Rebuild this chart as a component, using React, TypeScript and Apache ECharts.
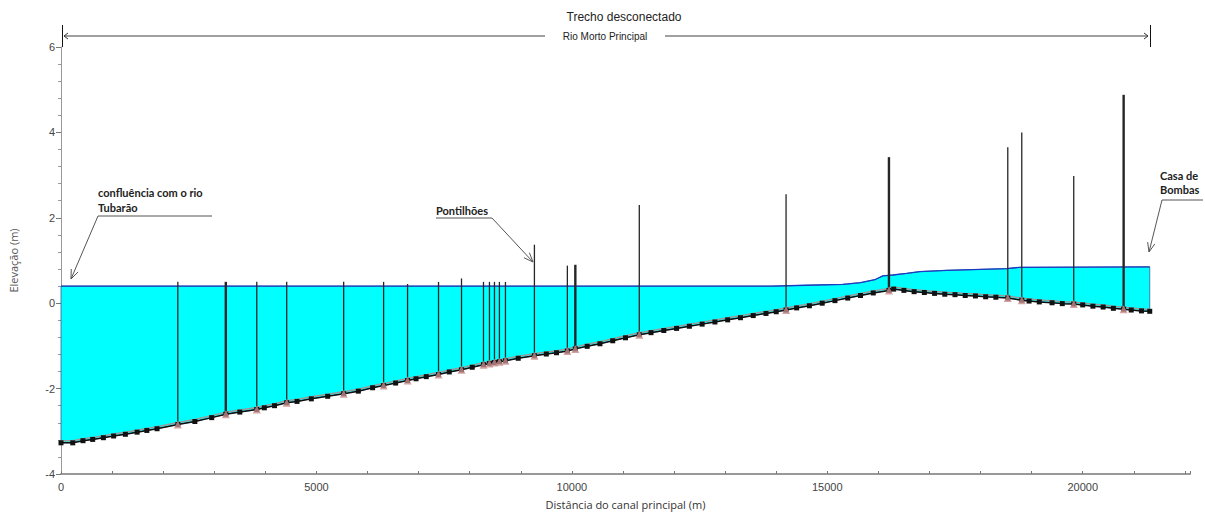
import React, { useEffect, useRef } from "react";
import * as echarts from "echarts";

// Bed profile (cross-sections): distance (m) and elevation (m)
const bedX = [0, 230, 430, 620, 830, 1030, 1260, 1490, 1680, 1880, 2287, 2620, 2950, 3226, 3500, 3832, 3980, 4180, 4418, 4620, 4900, 5220, 5533, 5820, 6100, 6315, 6550, 6784, 6950, 7150, 7390, 7600, 7840, 8050, 8270, 8387, 8485, 8582, 8700, 8950, 9267, 9500, 9700, 9912, 10068, 10300, 10550, 10800, 11050, 11320, 11550, 11800, 12050, 12300, 12550, 12800, 13050, 13300, 13550, 13800, 14000, 14193, 14400, 14650, 14900, 15150, 15400, 15650, 15900, 16207, 16300, 16500, 16700, 16900, 17100, 17300, 17500, 17700, 17900, 18100, 18300, 18533, 18807, 18950, 19150, 19400, 19600, 19824, 20000, 20200, 20400, 20600, 20801, 20950, 21150, 21312];
const bedZ = [-3.27, -3.27, -3.22, -3.19, -3.15, -3.11, -3.07, -3.02, -2.98, -2.94, -2.84, -2.77, -2.68, -2.6, -2.55, -2.49, -2.45, -2.4, -2.33, -2.3, -2.24, -2.18, -2.12, -2.06, -1.98, -1.93, -1.87, -1.81, -1.77, -1.72, -1.67, -1.61, -1.56, -1.5, -1.44, -1.41, -1.39, -1.37, -1.35, -1.29, -1.23, -1.19, -1.16, -1.12, -1.07, -1.01, -0.95, -0.88, -0.81, -0.74, -0.69, -0.64, -0.59, -0.54, -0.49, -0.44, -0.39, -0.34, -0.29, -0.24, -0.2, -0.16, -0.11, -0.06, 0.0, 0.06, 0.12, 0.18, 0.24, 0.3, 0.33, 0.3, 0.27, 0.25, 0.23, 0.21, 0.2, 0.18, 0.17, 0.15, 0.14, 0.12, 0.07, 0.05, 0.03, 0.01, -0.01, -0.02, -0.04, -0.07, -0.09, -0.12, -0.14, -0.16, -0.18, -0.19];

// Water surface
const waterX = [0, 13914, 14599, 15304, 15650, 15930, 16087, 16282, 16556, 16810, 17339, 18512, 18767, 21312];
const waterZ = [0.4, 0.4, 0.42, 0.44, 0.48, 0.55, 0.64, 0.66, 0.7, 0.74, 0.77, 0.81, 0.84, 0.85];

// Bridges (pontilhões): position, base (bed) and top elevations
const bridgeX = [2287, 3226, 3832, 4418, 5533, 6315, 6784, 7390, 7840, 8270, 8387, 8485, 8582, 8700, 9267, 9912, 10068, 11320, 14193, 16207, 18533, 18807, 19824, 20801];
const bridgeBase = [-2.84, -2.6, -2.49, -2.33, -2.12, -1.93, -1.81, -1.67, -1.56, -1.44, -1.41, -1.39, -1.37, -1.35, -1.23, -1.12, -1.07, -0.74, -0.16, 0.3, 0.12, 0.07, -0.02, -0.14];
const bridgeTop = [0.5, 0.5, 0.5, 0.5, 0.5, 0.5, 0.45, 0.5, 0.58, 0.5, 0.5, 0.5, 0.5, 0.5, 1.37, 0.88, 0.9, 2.3, 2.55, 3.42, 3.65, 4.0, 2.98, 4.88];
const thickBridges = [3226, 10068, 16207, 20801];

const FONT = "'Liberation Sans', Arial, sans-serif";
const BOLD = "Lato, 'Open Sans', sans-serif";

function arrowHead(tip: number[], from: number[], len = 10, ang = 0.38) {
  const dx = from[0] - tip[0];
  const dy = from[1] - tip[1];
  const a = Math.atan2(dy, dx);
  return [
    [tip[0] + len * Math.cos(a + ang), tip[1] + len * Math.sin(a + ang)],
    [tip[0], tip[1]],
    [tip[0] + len * Math.cos(a - ang), tip[1] + len * Math.sin(a - ang)],
  ];
}

function callout(points: number[][]) {
  const n = points.length;
  return [
    { type: "polyline", shape: { points }, style: { stroke: "#555", lineWidth: 1, fill: null }, silent: true },
    { type: "polyline", shape: { points: arrowHead(points[n - 1], points[n - 2]) }, style: { stroke: "#555", lineWidth: 1, fill: null }, silent: true },
  ];
}

export default function App() {
  const ref = useRef<HTMLDivElement>(null);
  useEffect(() => {
    if (!ref.current) return;
    const chart = echarts.init(ref.current, undefined, { renderer: "svg" });
    const bedData = bedX.map((x, i) => [x, bedZ[i]]);
    const waterData = waterX.map((x, i) => [x, waterZ[i]]);
    const bridgeData = bridgeX.map((x, i) => [x, bridgeBase[i], bridgeTop[i]]);

    const option: any = {
      animation: false,
      backgroundColor: "#fff",
      grid: { left: 60, right: 15, top: 47, bottom: 33, containLabel: false },
      xAxis: {
        type: "value",
        min: 0,
        max: 22100,
        interval: 1000,
        name: "Distância do canal principal (m)",
        nameLocation: "middle",
        nameGap: 25,
        nameTextStyle: { color: "#333", fontSize: 11, fontFamily: "'Open Sans', sans-serif" },
        axisLine: { show: true, onZero: false, lineStyle: { color: "#999", width: 2 } },
        axisTick: { show: true, inside: true, length: 3, lineStyle: { color: "#777" } },
        axisLabel: {
          color: "#444",
          fontSize: 11,
          fontFamily: FONT,
          margin: 7,
          formatter: (v: number) => (v % 5000 === 0 ? String(v) : ""),
        },
        splitLine: { show: false },
      },
      yAxis: {
        type: "value",
        min: -4,
        max: 6,
        interval: 2,
        name: "Elevação (m)",
        nameLocation: "middle",
        nameGap: 42,
        nameTextStyle: { color: "#555", fontSize: 11, fontFamily: "'Open Sans', sans-serif" },
        axisLine: { show: true, onZero: false, lineStyle: { color: "#999", width: 1 } },
        axisTick: { show: true, length: 5, lineStyle: { color: "#777" } },
        minorTick: { show: true, splitNumber: 5, length: 3, lineStyle: { color: "#999" } },
        axisLabel: { color: "#444", fontSize: 11, fontFamily: FONT, margin: 6 },
        splitLine: { show: false },
        minorSplitLine: { show: false },
      },
      series: [
        {
          type: "custom",
          z: 1,
          data: [[0, 0]],
          renderItem: (_p: any, api: any) => {
            const pts: number[][] = [];
            waterX.forEach((x, i) => pts.push(api.coord([x, waterZ[i]])));
            for (let i = bedX.length - 1; i >= 0; i--) pts.push(api.coord([bedX[i], bedZ[i]]));
            return {
              type: "polygon",
              shape: { points: pts },
              style: { fill: "#00FFFF", stroke: "#3a5a9a", lineWidth: 0.8 },
            };
          },
          silent: true,
        },
        {
          type: "line",
          z: 2,
          data: waterData,
          symbol: "none",
          lineStyle: { color: "#1a3cc0", width: 1.3 },
          silent: true,
        },
        {
          type: "custom",
          z: 3,
          data: bridgeData,
          encode: { x: 0, y: [1, 2] },
          renderItem: (_p: any, api: any) => {
            const x = api.value(0);
            const p0 = api.coord([x, api.value(1)]);
            const p1 = api.coord([x, api.value(2)]);
            const thick = thickBridges.indexOf(x) >= 0;
            return {
              type: "line",
              shape: { x1: p0[0], y1: p0[1], x2: p1[0], y2: p1[1] },
              style: { stroke: "#262626", lineWidth: thick ? 2.4 : 1.3 },
            };
          },
          silent: true,
        },
        {
          type: "line",
          z: 4,
          data: bedData,
          symbol: "rect",
          symbolSize: 5,
          itemStyle: { color: "#111" },
          lineStyle: { color: "#111", width: 1.5, shadowColor: "#9a9a9a", shadowOffsetY: -2, shadowBlur: 0 },
          silent: true,
        },
        {
          type: "scatter",
          z: 5,
          data: bridgeX.map((x, i) => [x, bridgeBase[i]]),
          symbol: "triangle",
          symbolSize: 8,
          itemStyle: { color: "#c68c8c" },
          silent: true,
        },
      ],
      graphic: [
        { type: "text", x: 624, y: 17, style: { text: "Trecho desconectado", fill: "#222", font: `12px ${FONT}`, align: "center", verticalAlign: "middle" } },
        { type: "text", x: 605, y: 36, style: { text: "Rio Morto Principal", fill: "#222", font: `10px 'Liberation Sans Narrow', ${FONT}`, align: "center", verticalAlign: "middle" } },
        { type: "line", shape: { x1: 64, y1: 36, x2: 545, y2: 36 }, style: { stroke: "#a0a0a0", lineWidth: 2 } },
        { type: "line", shape: { x1: 665, y1: 36, x2: 1148, y2: 36 }, style: { stroke: "#a0a0a0", lineWidth: 2 } },
        { type: "polyline", shape: { points: [[68, 33], [64, 36], [68, 39]] }, style: { stroke: "#333", lineWidth: 1, fill: null } },
        { type: "polyline", shape: { points: [[1144, 33], [1148, 36], [1144, 39]] }, style: { stroke: "#333", lineWidth: 1, fill: null } },
        { type: "line", shape: { x1: 62.5, y1: 25, x2: 62.5, y2: 47 }, style: { stroke: "#111", lineWidth: 1 } },
        { type: "line", shape: { x1: 1150.5, y1: 25, x2: 1150.5, y2: 47 }, style: { stroke: "#111", lineWidth: 1 } },

        { type: "text", x: 98, y: 192, style: { text: "confluência com o rio", fill: "#222", font: `bold 11px ${BOLD}`, verticalAlign: "middle" } },
        { type: "text", x: 98, y: 207, style: { text: "Tubarão", fill: "#222", font: `bold 11px ${BOLD}`, verticalAlign: "middle" } },
        ...callout([[212, 216], [98, 216], [71, 279]]),

        { type: "text", x: 436, y: 210, style: { text: "Pontilhões", fill: "#222", font: `bold 11px ${BOLD}`, verticalAlign: "middle" } },
        ...callout([[436, 218], [492, 218], [533, 262]]),

        { type: "text", x: 1160, y: 175, style: { text: "Casa de", fill: "#222", font: `bold 11px ${BOLD}`, verticalAlign: "middle" } },
        { type: "text", x: 1160, y: 189, style: { text: "Bombas", fill: "#222", font: `bold 11px ${BOLD}`, verticalAlign: "middle" } },
        ...callout([[1203, 200], [1162, 200], [1149, 252]]),
      ],
    };
    chart.setOption(option);
    return () => chart.dispose();
  }, []);

  return (
    <div
      ref={ref}
      style={{ position: "fixed", left: 0, top: 0, width: 1205, height: 515, background: "#fff" }}
    />
  );
}
